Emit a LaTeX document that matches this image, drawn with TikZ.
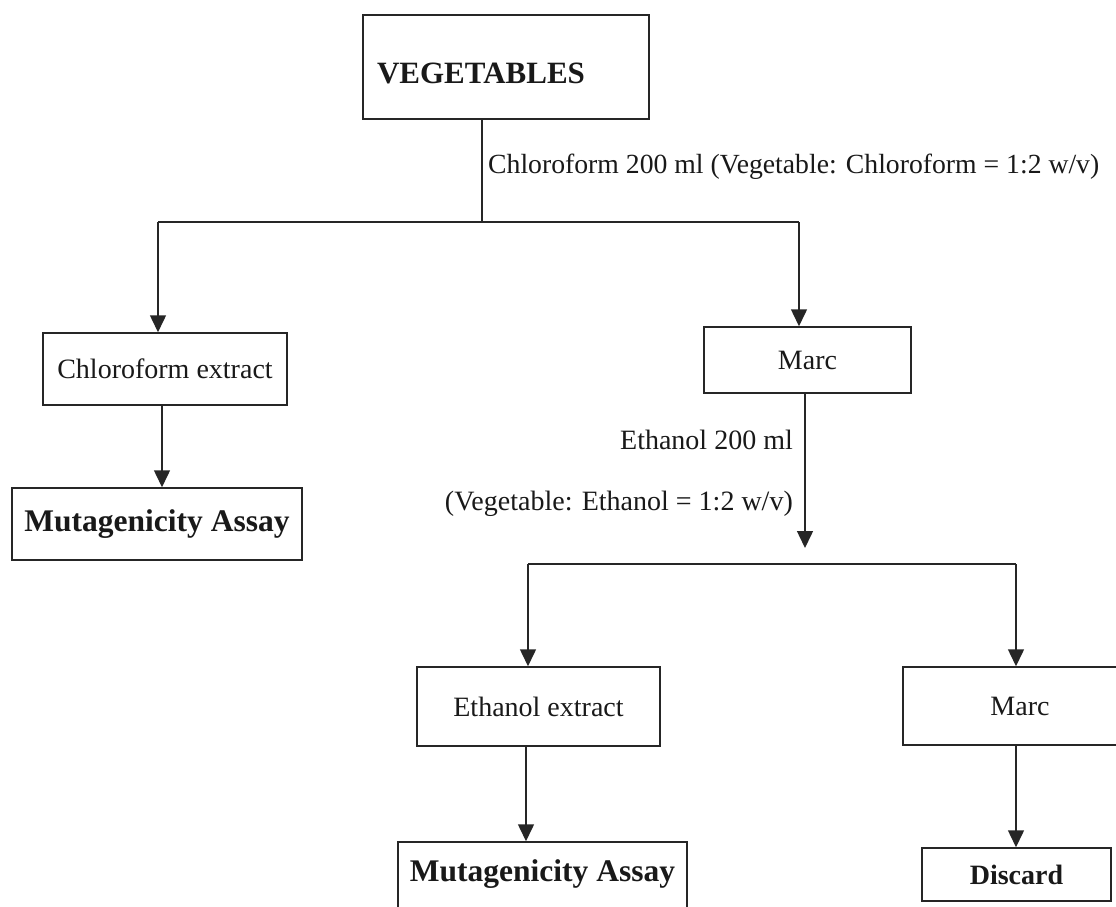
\documentclass[tikz,border=0pt]{standalone}
\usepackage{fontspec}
\setmainfont{Liberation Serif}
\usetikzlibrary{arrows.meta}
\begin{document}
\begin{tikzpicture}[x=1pt,y=-1pt,
  box/.style={draw=black!85,line width=1.5pt,rectangle,inner sep=0pt,anchor=center},
  txt/.style={font=\fontsize{28}{32}\selectfont,inner sep=0pt,text=black!90},
  btxt/.style={font=\fontsize{31.5}{36}\bfseries\selectfont,inner sep=0pt,text=black!90},
  conn/.style={draw=black!85,line width=1.5pt},
  arr/.style={conn,-{Triangle[width=16pt,length=17pt]}}]
\useasboundingbox (0,0) rectangle (1116,907);
\clip (0,0) rectangle (1116,907);
\fill[white] (0,0) rectangle (1116,907);

% boxes
\node[box,minimum width=286pt,minimum height=104pt] (veg) at (506,67) {};
\node[btxt,font=\fontsize{31}{36}\bfseries\selectfont] (vegtxt) at (481,73) {VEGETABLES};
\node[box,minimum width=244pt,minimum height=72pt,txt] (chl) at (165,369) {Chloroform extract};
\node[box,minimum width=290pt,minimum height=72pt,btxt] (mut1) at (157,524) {Mutagenicity Assay};
\node[box,minimum width=207pt,minimum height=66pt,txt] (marc1) at (807.5,360) {Marc};
\node[box,minimum width=243pt,minimum height=79pt,txt] (eth) at (538.5,706.5) {Ethanol extract};
\node[box,minimum width=289pt,minimum height=72pt] (mut2) at (542.5,878) {};
\node[btxt] (mut2txt) at (542.5,874) {Mutagenicity Assay};
\node[box,minimum width=234pt,minimum height=78pt,txt] (marc2) at (1020,706) {Marc};
\node[box,minimum width=189pt,minimum height=53pt,txt,font=\fontsize{28}{32}\bfseries\selectfont] (disc) at (1016.5,874.5) {Discard};

% labels
\node[txt,font=\fontsize{27.7}{32}\selectfont,anchor=base west] (lbl1) at (488,173) {Chloroform 200 ml (Vegetable: Chloroform = 1:2 w/v)};
\node[txt,anchor=base east] (lbl2) at (793,449) {Ethanol 200 ml};
\node[txt,anchor=base east] (lbl3) at (793,510) {(Vegetable: Ethanol = 1:2 w/v)};

% first split
\coordinate (j1) at (482,222);
\coordinate (lc) at (158,222);
\coordinate (rc) at (799,222);
\draw[conn] (veg.south -| j1) -- (j1);
\draw[conn] (lc) -- (rc);
\draw[arr] (lc) -- (lc |- chl.north);
\draw[arr] (rc) -- (rc |- marc1.north);

% chloroform extract to assay
\coordinate (c1) at (162,0);
\draw[arr] (chl.south -| c1) -- (mut1.north -| c1);

% marc to ethanol split
\coordinate (e1) at (805,548);
\draw[arr] (marc1.south -| e1) -- (e1);
\coordinate (lc2) at (528,564);
\coordinate (rc2) at (1016,564);
\draw[conn] (lc2) -- (rc2);
\draw[arr] (lc2) -- (lc2 |- eth.north);
\draw[arr] (rc2) -- (rc2 |- marc2.north);

% lower arrows
\coordinate (c2) at (526,0);
\draw[arr] (eth.south -| c2) -- (mut2.north -| c2);
\draw[arr] (marc2.south -| rc2) -- (disc.north -| rc2);
\end{tikzpicture}
\end{document}
